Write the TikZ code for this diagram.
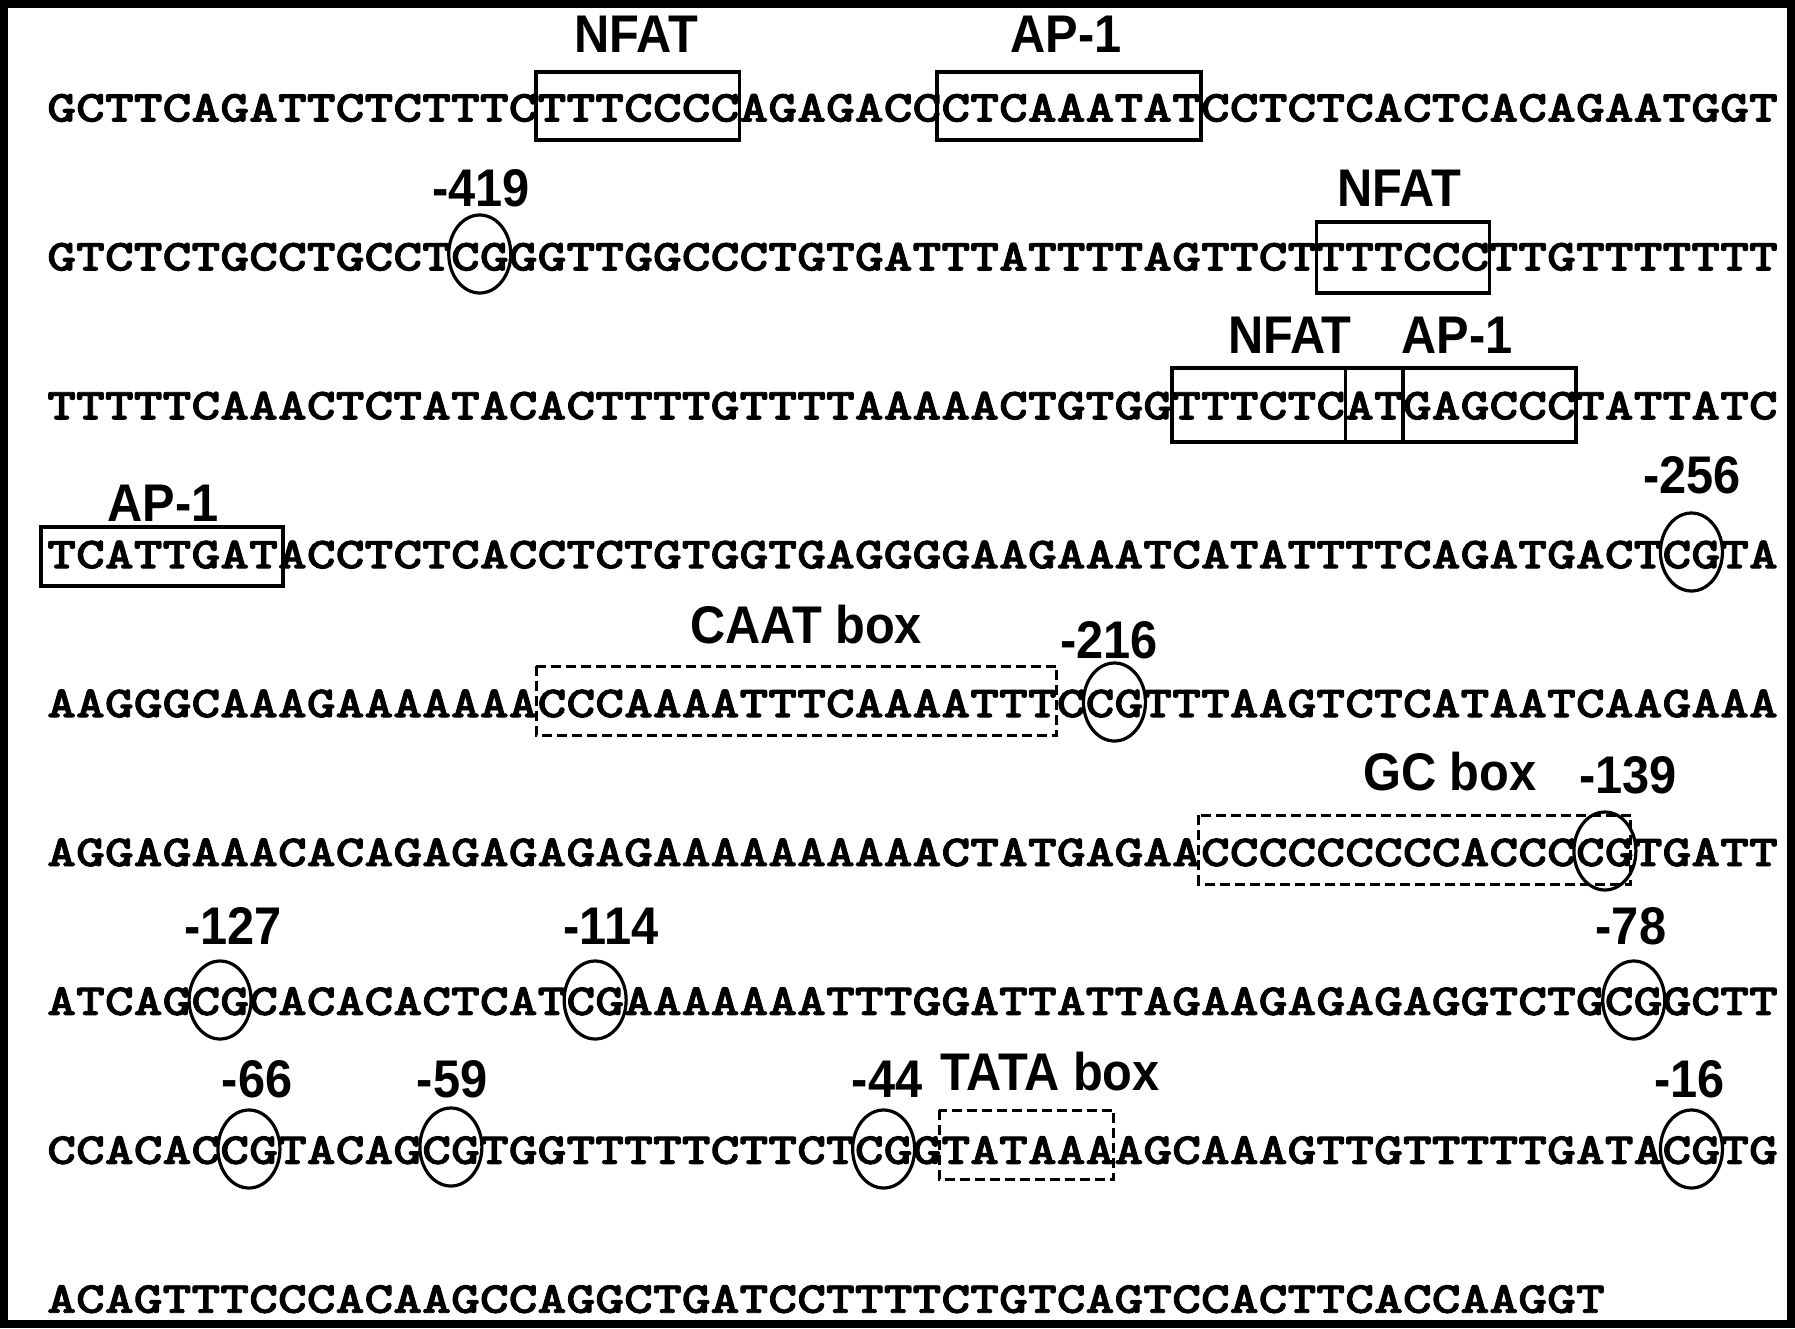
\documentclass[tikz,border=0pt]{standalone}
\usepackage{fontspec}
\usetikzlibrary{shapes.geometric}
\newfontfamily\seqfont{lmmonolt10-bold.otf}[FakeStretch=1.243, FakeBold=2]
\newfontfamily\lblfont{Liberation Sans}[FakeStretch=0.92]

\begin{document}
\begin{tikzpicture}[x=1pt, y=-1pt,
  seq/.style={anchor=base west, inner sep=0pt,
              font=\seqfont\fontsize{44.2}{50}\selectfont},
  lbl/.style={anchor=base, inner sep=0pt,
              font=\lblfont\bfseries\fontsize{53}{55}\selectfont},
  site/.style={draw, line width=3.5pt},
  motif/.style={draw, line width=3pt, dash pattern=on 10pt off 5pt},
  cpg/.style={draw, ellipse, line width=3.2pt, inner sep=0pt,
              minimum width=62pt, minimum height=78pt}]
  \useasboundingbox (0,0) rectangle (1795,1328);
  \fill[white] (0,0) rectangle (1795,1328);
  \draw[line width=8pt] (4,4) rectangle (1791,1324);

  \begin{scope}[shift={(47,0)}, x=28.85pt]
  % sequence, 60 bases a row
  \node[seq] (s1) at (0,121.5) {GCTTCAGATTCTCTTTCTTTCCCCAGAGACCCTCAAATATCCTCTCACTCACAGAATGGT};
  \node[seq] (s2) at (0,270.4) {GTCTCTGCCTGCCTCGGGTTGGCCCTGTGATTTATTTTAGTTCTTTTCCCTTGTTTTTTT};
  \node[seq] (s3) at (0,419.3) {TTTTTCAAACTCTATACACTTTTGTTTTAAAAACTGTGGTTTCTCATGAGCCCTATTATC};
  \node[seq] (s4) at (0,568.2) {TCATTGATACCTCTCACCTCTGTGGTGAGGGGAAGAAATCATATTTTCAGATGACTCGTA};
  \node[seq] (s5) at (0,717.1) {AAGGGCAAAGAAAAAAACCCAAAATTTCAAAATTTCCGTTTAAGTCTCATAATCAAGAAA};
  \node[seq] (s6) at (0,866) {AGGAGAAACACAGAGAGAGAGAAAAAAAAAACTATGAGAACCCCCCCCCACCCCGTGATT};
  \node[seq] (s7) at (0,1014.9) {ATCAGCGCACACACTCATCGAAAAAAATTTGGATTATTAGAAGAGAGAGGTCTGCGGCTT};
  \node[seq] (s8) at (0,1163.8) {CCACACCGTACAGCGTGGTTTTTCTTCTCGGTATAAAAGCAAAGTTGTTTTTGATACGTG};
  \node[seq] (s9) at (0,1312.7) {ACAGTTTCCCACAAGCCAGGCTGATCCTTTTCTGTCAGTCCACTTCACCAAGGT};

  % binding sites
  \draw[site] (16.95,72) rectangle (24,140);
  \draw[site] (30.85,72) rectangle (40,140);
  \draw[site] (44,222) rectangle (50,293);
  \draw[site] (39,368) rectangle (53,442);
  \draw[site] (45,368) -- (45,442) (47,368) -- (47,442);
  \draw[site] (-0.2,527) rectangle (8.18,586);

  % promoter boxes
  \draw[motif] (16.95,666) rectangle (35,735);
  \draw[motif] (39.93,815) rectangle (54.9,884);
  \draw[motif] (30.92,1110) rectangle (36.98,1179);

  % CpG sites
  \node[cpg] (c419) at (15,254) {};
  \node[cpg] (c256) at (57,552) {};
  \node[cpg] (c216) at (37,702) {};
  \node[cpg] (c139) at (54,851) {};
  \node[cpg] (c127) at (6,1000) {};
  \node[cpg] (c114) at (19,1000) {};
  \node[cpg] (c78) at (55,1000) {};
  \node[cpg] (c66) at (7,1149) {};
  \node[cpg] (c59) at (14,1147) {};
  \node[cpg] (c44) at (29,1149) {};
  \node[cpg] (c16) at (57,1149) {};

  % labels
  \node[lbl] (t1) at (20.42,52) {NFAT};
  \node[lbl] (t2) at (35.32,52) {AP-1};
  \node[lbl] (t3) at (15.04,206) {-419};
  \node[lbl] (t4) at (46.86,206) {NFAT};
  \node[lbl] (t5) at (43.08,353) {NFAT};
  \node[lbl] (t6) at (48.87,353) {AP-1};
  \node[lbl] (t7) at (4.02,521) {AP-1};
  \node[lbl] (t8) at (57.02,493) {-256};
  \node[lbl] (t9) at (26.31,643) {CAAT box};
  \node[lbl] (t10) at (36.81,658) {-216};
  \node[lbl] (t11) at (48.63,790) {GC box};
  \node[lbl] (t12) at (54.8,793) {-139};
  \node[lbl] (t13) at (6.45,944) {-127};
  \node[lbl] (t14) at (19.55,944) {-114};
  \node[lbl] (t15) at (54.9,944) {-78};
  \node[lbl] (t16) at (7.28,1097) {-66};
  \node[lbl] (t17) at (14.04,1097) {-59};
  \node[lbl] (t18) at (29.12,1097) {-44};
  \node[lbl] (t19) at (34.77,1090) {TATA box};
  \node[lbl] (t20) at (56.93,1097) {-16};
  \end{scope}
\end{tikzpicture}
\end{document}
